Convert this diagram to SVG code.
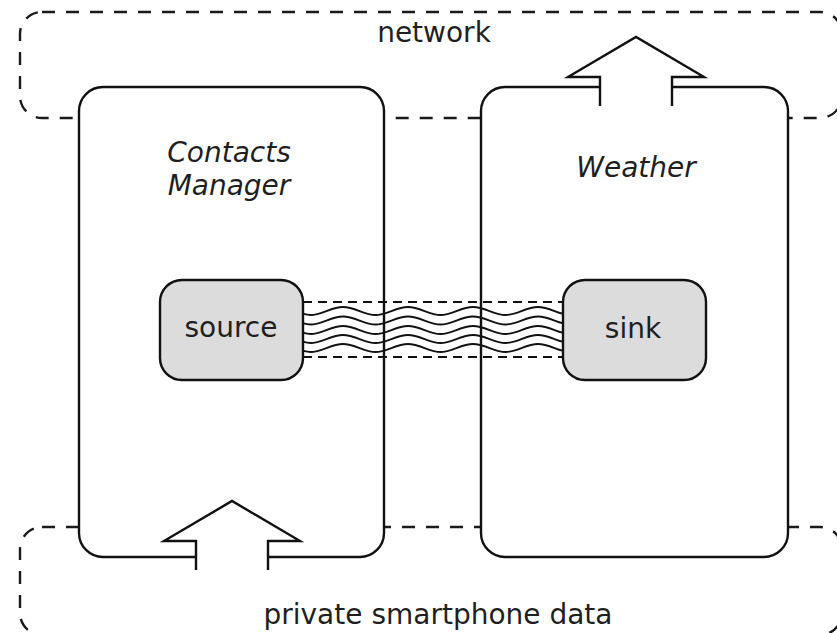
<svg xmlns="http://www.w3.org/2000/svg" width="837" height="633" viewBox="0 0 837 633">
  <style>
    .zone { fill: none; stroke: #1a1a1a; stroke-width: 2.4; stroke-dasharray: 13 11; }
    .app { fill: #ffffff; stroke: #111; stroke-width: 2.4; }
    .port { fill: #dcdcdc; stroke: #111; stroke-width: 2.4; }
    .flow-fill { fill: #ffffff; stroke: none; }
    .flow-edge { fill: none; stroke: #111; stroke-width: 2.4; stroke-linejoin: miter; }
    .chan { fill: none; stroke: #111; stroke-width: 2.2; stroke-dasharray: 9 6; }
    .wave { fill: none; stroke: #111; stroke-width: 1.9; }
    text { font-family: "DejaVu Sans", "Liberation Sans", sans-serif; font-size: 28px; fill: #1f1f1f; text-anchor: middle; }
    .title { font-style: italic; }
  </style>
  <defs>
    <clipPath id="chanClip">
      <rect x="303" y="300" width="260" height="60"/>
    </clipPath>
    <!-- one sine-like strand, period 65, amplitude 4, centred on y=0 -->
    <path id="strand" d="M278,-4
      C289.8,-4 299.2,4 310.5,4 S331.2,-4 343,-4
      S364.2,4 375.5,4 S396.2,-4 408,-4
      S429.2,4 440.5,4 S461.2,-4 473,-4
      S494.2,4 505.5,4 S526.2,-4 538,-4
      S559.2,4 570.5,4 S591.2,-4 603,-4"/>
  </defs>

  <!-- environment zones -->
  <g id="zone-network">
    <rect class="zone" x="20" y="12" width="822" height="106" rx="22" ry="22"/>
    <text x="434" y="42">network</text>
  </g>
  <g id="zone-private">
    <rect class="zone" x="20" y="527" width="822" height="108" rx="22" ry="22"/>
    <text x="438" y="624">private smartphone data</text>
  </g>

  <!-- applications -->
  <g id="app-contacts">
    <rect class="app" x="79" y="87" width="305" height="470" rx="24" ry="24"/>
    <text class="title" x="229" y="162">Contacts</text>
    <text class="title" x="229" y="195">Manager</text>
  </g>
  <g id="app-weather">
    <rect class="app" x="481" y="87" width="307" height="470" rx="24" ry="24"/>
    <text class="title" x="636" y="177">Weather</text>
  </g>

  <!-- data flows -->
  <g id="connectors">
    <g id="flow-to-network">
      <polygon class="flow-fill" points="600,108 600,77 568,77 636,37 704,77 672,77 672,108"/>
      <polyline class="flow-edge" points="600,106 600,77 568,77 636,37 704,77 672,77 672,106"/>
    </g>
    <g id="flow-from-private">
      <polygon class="flow-fill" points="196,572 196,541 164,541 232,501 300,541 268,541 268,572"/>
      <polyline class="flow-edge" points="196,570 196,541 164,541 232,501 300,541 268,541 268,570"/>
    </g>
    <g id="channel">
      <line class="chan" x1="303" y1="302" x2="563" y2="302"/>
      <line class="chan" x1="303" y1="357" x2="563" y2="357"/>
      <g clip-path="url(#chanClip)">
        <use href="#strand" class="wave" y="311"/>
        <use href="#strand" class="wave" y="320.5"/>
        <use href="#strand" class="wave" y="330"/>
        <use href="#strand" class="wave" y="339"/>
        <use href="#strand" class="wave" y="348"/>
      </g>
    </g>
  </g>

  <!-- channel endpoints -->
  <g id="source">
    <rect class="port" x="160" y="280" width="143" height="100" rx="22" ry="22"/>
    <text x="231" y="337">source</text>
  </g>
  <g id="sink">
    <rect class="port" x="563" y="280" width="143" height="100" rx="22" ry="22"/>
    <text x="633" y="338">sink</text>
  </g>
</svg>
